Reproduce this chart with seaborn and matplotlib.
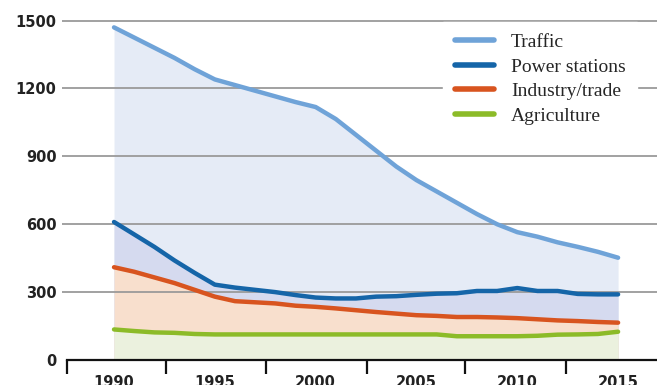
import numpy as np
import pandas as pd
import matplotlib
matplotlib.use("Agg")
import matplotlib.pyplot as plt
import seaborn as sns

# Annual emissions by source, 1990-2015
years = list(range(1990, 2016))
traffic = [1470, 1425, 1380, 1335, 1285, 1240, 1215, 1190, 1165, 1140, 1118,
           1065, 995, 925, 855, 795, 745, 695, 645, 600, 565, 545, 520, 500, 478, 452]
power_stations = [610, 555, 500, 440, 385, 333, 320, 310, 300, 287, 276,
                  272, 272, 280, 282, 288, 293, 295, 305, 305, 318, 305, 305, 292, 290, 290]
industry_trade = [410, 390, 365, 340, 310, 280, 260, 255, 250, 240, 235,
                  228, 220, 212, 205, 198, 195, 190, 190, 188, 185, 180, 175, 172, 168, 165]
agriculture = [135, 128, 122, 120, 115, 113, 113, 113, 113, 113, 113,
               113, 113, 113, 113, 113, 113, 105, 105, 105, 105, 107, 112, 113, 115, 125]

series_names = ["Traffic", "Power stations", "Industry/trade", "Agriculture"]
line_colors = ["#6fa3d8", "#1565a8", "#d8541f", "#8cbb28"]
fill_colors = ["#e5ebf6", "#d5daef", "#f8dfcd", "#ebf1de"]

y_ticks = [0, 300, 600, 900, 1200, 1500]
x_labels = [1990, 1995, 2000, 2005, 2010, 2015]
x_bounds = [1987.65, 1992.6, 1997.55, 2002.55, 2007.4, 2012.4]

df = pd.DataFrame({
    "year": years * 4,
    "value": traffic + power_stations + industry_trade + agriculture,
    "source": sum([[n] * len(years) for n in series_names], []),
})

sns.set_theme(style="white")
plt.rcParams["font.family"] = ["DejaVu Sans"]

fig = plt.figure(figsize=(6.57, 3.85), dpi=100)
ax = fig.add_axes([62 / 657, 25 / 385, 595 / 657, 360 / 385])

# area fills, each from zero
for name, fc in zip(series_names, fill_colors):
    vals = df.loc[df["source"] == name, "value"].to_numpy()
    ax.fill_between(years, 0, vals, color=fc, lw=0, zorder=1)

sns.lineplot(data=df, x="year", y="value", hue="source", hue_order=series_names,
             palette=line_colors, linewidth=3.2, ax=ax, zorder=3, legend=True)

ax.set_xlim(1987.42, 2016.93)
ax.set_ylim(0, 1591)
ax.set_xlabel("")
ax.set_ylabel("")

# horizontal grid
ax.set_yticks(y_ticks)
ax.set_yticklabels([str(v) for v in y_ticks])
ax.yaxis.grid(True, color="#9a9a9a", linewidth=1.3)
ax.set_axisbelow(False)
for gl in ax.yaxis.get_gridlines():
    gl.set_zorder(2)
ax.yaxis.get_gridlines()[0].set_visible(False)
ax.tick_params(axis="y", length=0, pad=4, labelsize=10.5, labelcolor="#222222")
for t in ax.get_yticklabels():
    t.set_fontweight("bold")

# x axis: tick marks at period boundaries, labels at years
ax.set_xticks(x_bounds)
ax.set_xticklabels([""] * len(x_bounds))
ax.set_xticks(x_labels, minor=True)
ax.set_xticklabels([str(v) for v in x_labels], minor=True)
ax.tick_params(axis="x", which="major", direction="out", length=10, width=1.6,
               color="#111111", bottom=True)
ax.tick_params(axis="x", which="minor", length=0, pad=11, labelsize=10.5,
               labelcolor="#222222")
for t in ax.get_xticklabels(minor=True):
    t.set_fontweight("bold")

for s in ["left", "right", "top"]:
    ax.spines[s].set_visible(False)
ax.spines["bottom"].set_color("#111111")
ax.spines["bottom"].set_linewidth(1.6)
ax.spines["bottom"].set_bounds(1987.65, 2016.93)

handles, labels = ax.get_legend_handles_labels()
leg = ax.legend(handles, labels, loc="upper left",
                bbox_to_anchor=((443 - 62) / 595, (360 - 22) / 360),
                frameon=True, facecolor="white", edgecolor="white", framealpha=1,
                fancybox=False, borderpad=0.6, handlelength=2.0,
                handletextpad=0.9, labelspacing=0.35,
                borderaxespad=0,
                prop={"family": "Liberation Serif", "size": 14})
leg.set_zorder(5)
for line in leg.get_lines():
    line.set_linewidth(4)

fig.savefig("out.png", dpi=100)
